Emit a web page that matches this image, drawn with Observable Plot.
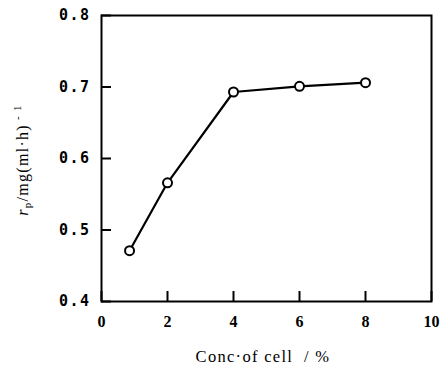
<!DOCTYPE html>
<html>
<head>
<meta charset="utf-8">
<script src="https://cdn.jsdelivr.net/npm/d3@7"></script>
<script src="https://cdn.jsdelivr.net/npm/@observablehq/plot@0.6"></script>
<style>
  html, body { margin: 0; padding: 0; background: #fff; }
  svg { display: block; }
</style>
</head>
<body>
<div id="chart"></div>
<script>
const conc = [0.85, 2, 4, 6, 8];
const rate = [0.471, 0.566, 0.693, 0.701, 0.706];
const xTicks = [0, 2, 4, 6, 8, 10];
const yTicks = [0.4, 0.5, 0.6, 0.7, 0.8];
const xTitle = "Conc·of cell  / %";

const data = conc.map((c, i) => ({c, r: rate[i]}));

const W = 448, H = 371, ML = 101, MR = 17, MT = 15, MB = 70, TICK = 10;
const xMin = xTicks[0], xMax = xTicks[xTicks.length - 1];
const yMin = yTicks[0], yMax = yTicks[yTicks.length - 1];
// inward tick length converted from pixels into data units
const tickX = TICK * (xMax - xMin) / (W - ML - MR);
const tickY = TICK * (yMax - yMin) / (H - MT - MB);

const chart = Plot.plot({
  width: W,
  height: H,
  marginLeft: ML,
  marginRight: MR,
  marginTop: MT,
  marginBottom: MB,
  style: {background: "#fff", color: "#000", fontFamily: "Liberation Serif"},
  x: {domain: [xMin, xMax]},
  y: {domain: [yMin, yMax]},
  marks: [
    Plot.frame({stroke: "#000", strokeWidth: 2}),
    Plot.ruleX(xTicks, {x: d => d, y1: () => yMin, y2: () => yMin + tickY, stroke: "#000", strokeWidth: 2}),
    Plot.ruleY(yTicks, {y: d => d, x1: () => xMin, x2: () => xMin + tickX, stroke: "#000", strokeWidth: 2}),
    Plot.axisX(xTicks, {tickSize: 0, tickPadding: 14, fontSize: 16, fontWeight: "bold", fontFamily: "Liberation Serif", label: null}),
    Plot.axisY(yTicks, {tickSize: 0, tickPadding: 11, fontSize: 15, fontWeight: "bold", fontFamily: "DejaVu Sans Mono", tickFormat: d3.format(".1f"), label: null}),
    Plot.line(data, {x: "c", y: "r", stroke: "#000", strokeWidth: 2.2}),
    Plot.dot(data, {x: "c", y: "r", r: 4.5, fill: "#fff", stroke: "#000", strokeWidth: 2})
  ]
});

const svg = d3.select(chart);
svg.selectAll("g[aria-label='y-axis tick label'] text").style("letter-spacing", "1.5px");

svg.append("text")
  .attr("x", 263).attr("y", 362)
  .attr("text-anchor", "middle")
  .attr("font-family", "Liberation Serif")
  .attr("font-size", 16.5)
  .attr("letter-spacing", "1.3px")
  .attr("fill", "#000")
  .style("white-space", "pre")
  .text(xTitle);

const yl = svg.append("text")
  .attr("transform", "translate(28,160) rotate(-90)")
  .attr("text-anchor", "middle")
  .attr("font-family", "Liberation Serif")
  .attr("font-size", 16)
  .attr("letter-spacing", "1.3px")
  .attr("fill", "#000");
yl.append("tspan").attr("font-style", "italic").text("r");
yl.append("tspan").attr("font-size", 11).attr("dy", 3).text("p");
yl.append("tspan").attr("dy", -3).text("/mg(ml·h)");
yl.append("tspan").attr("font-size", 11).attr("dy", -7).text(" - 1");

document.getElementById("chart").appendChild(chart);
</script>
</body>
</html>
